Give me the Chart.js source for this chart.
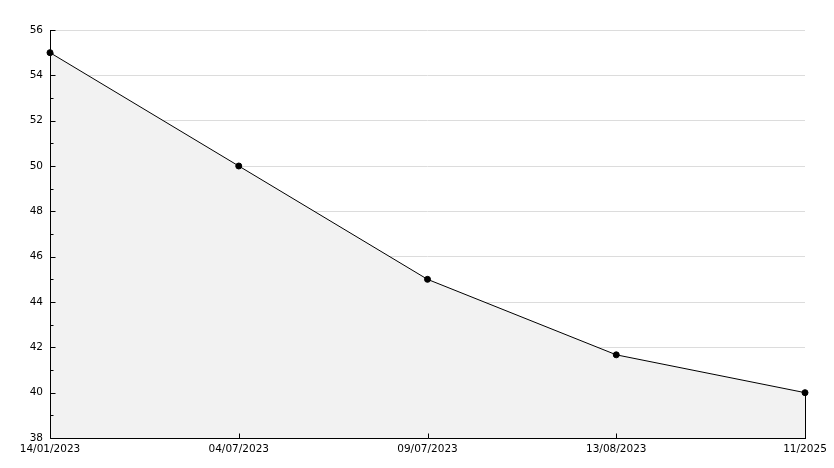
<!DOCTYPE html>
<html>
<head>
<meta charset="utf-8">
<script src="https://cdn.jsdelivr.net/npm/chart.js@4.4.1/dist/chart.umd.min.js"></script>
<style>
  html, body { margin: 0; padding: 0; background: #fff; }
  #wrap { width: 834px; height: 468px; }
</style>
</head>
<body>
<div id="wrap"><canvas id="chart" width="834" height="468"></canvas></div>
<script>
const labels = ['14/01/2023', '04/07/2023', '09/07/2023', '13/08/2023', '11/2025'];
const values = [55, 50, 45, 41.67, 40];
const yMin = 38;
const yMax = 56;

const FONT = { family: '"DejaVu Sans", sans-serif', size: 10.5 };

// axis lines, inner ticks and the closing edge of the filled area, drawn over the fill
const axisOverlay = {
  id: 'axisOverlay',
  afterDatasetsDraw(chart) {
    const { ctx, chartArea, scales: { x, y } } = chart;
    const left = Math.round(chartArea.left) + 0.5;
    const bottom = Math.round(chartArea.bottom) + 0.5;
    ctx.save();
    ctx.strokeStyle = '#000';
    ctx.lineWidth = 1;
    ctx.beginPath();
    ctx.moveTo(left, Math.round(chartArea.top));
    ctx.lineTo(left, bottom);
    ctx.lineTo(Math.round(chartArea.right) + 1, bottom);
    for (let v = yMin; v <= yMax; v++) {
      const py = Math.round(y.getPixelForValue(v)) + 0.5;
      const len = v % 2 === 0 ? 5 : 3;
      ctx.moveTo(left, py);
      ctx.lineTo(left + len, py);
    }
    labels.forEach((_, i) => {
      const px = Math.round(x.getPixelForValue(i)) + 0.5;
      ctx.moveTo(px, bottom);
      ctx.lineTo(px, bottom - 5);
    });
    const last = values.length - 1;
    const lx = Math.round(x.getPixelForValue(last)) + 0.5;
    ctx.moveTo(lx, y.getPixelForValue(values[last]));
    ctx.lineTo(lx, bottom);
    ctx.stroke();
    ctx.restore();
  }
};

new Chart(document.getElementById('chart'), {
  type: 'line',
  data: {
    labels: labels,
    datasets: [{
      data: values,
      borderColor: '#000',
      borderWidth: 1,
      backgroundColor: '#f2f2f2',
      fill: 'start',
      tension: 0,
      pointRadius: 3,
      pointBackgroundColor: '#000',
      pointBorderColor: '#000',
      pointBorderWidth: 1,
    }],
  },
  options: {
    responsive: false,
    animation: false,
    layout: { padding: { top: 30, right: 29, left: 0, bottom: 0 } },
    plugins: { legend: { display: false }, tooltip: { enabled: false } },
    scales: {
      x: {
        type: 'category',
        offset: false,
        grid: { display: false, drawTicks: false },
        border: { display: false },
        ticks: { color: '#000', font: FONT, padding: 5, maxRotation: 0, autoSkip: false },
        afterFit(scale) { scale.height = 30; },
      },
      y: {
        min: yMin,
        max: yMax,
        grid: {
          drawTicks: false,
          color: ctx => (ctx.tick && ctx.tick.value % 2 === 0 && ctx.tick.value !== yMin) ? '#dcdcdc' : 'rgba(0,0,0,0)',
        },
        border: { display: false },
        ticks: {
          stepSize: 1,
          color: '#000',
          font: FONT,
          padding: 7,
          callback: v => (v % 2 === 0 ? String(v) : ''),
        },
        afterFit(scale) { scale.width = 50; },
      },
    },
  },
  plugins: [axisOverlay],
});
</script>
</body>
</html>
